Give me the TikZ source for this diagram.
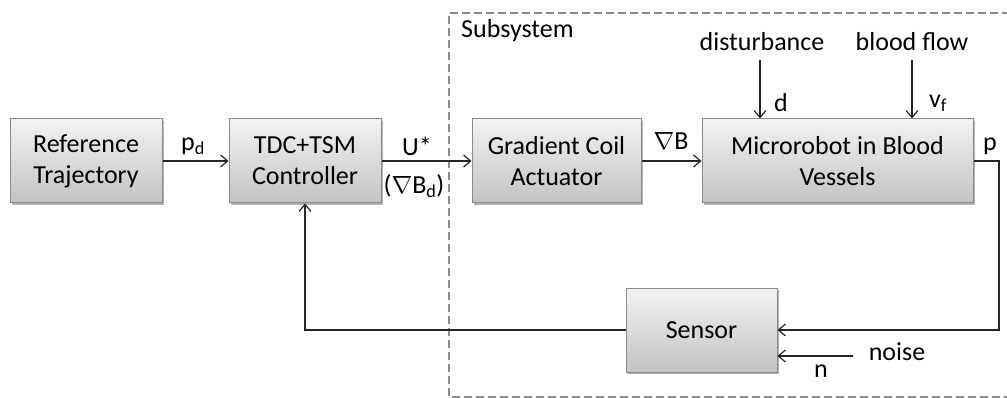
\documentclass[tikz,border=0pt]{standalone}
\usepackage{fontspec}
\setmainfont{Carlito}
\usetikzlibrary{arrows.meta,shadows}
\definecolor{boxtop}{HTML}{F2F2F2}
\definecolor{boxbot}{HTML}{C3C3C3}
\definecolor{boxborder}{HTML}{8A8A8A}
\definecolor{dashcol}{HTML}{8C8C8C}
\definecolor{linecol}{HTML}{262626}
\begin{document}
\begin{tikzpicture}[x=1pt,y=-1pt,
  blk/.style={draw=boxborder, line width=1pt, top color=boxtop, bottom color=boxbot,
    minimum height=84pt, align=center, font=\fontsize{26}{31}\selectfont, inner sep=0pt,
    drop shadow={shadow xshift=2pt, shadow yshift=-2pt, fill=black, opacity=0.3}},
  lbl/.style={font=\fontsize{26}{31}\selectfont, inner sep=0pt},
  conn/.style={line width=1.2pt, draw=linecol, -{Straight Barb[length=7pt,width=12pt]}},
  subbox/.style={draw=dashcol, line width=1.3pt, dash pattern=on 8pt off 4pt}]
\useasboundingbox (0,0) rectangle (1007,398);
\fill[white] (0,0) rectangle (1007,398);

% subsystem frame
\draw[subbox] (1010,13) -- (449,13) -- (449,397) -- (1010,397);
\node[lbl, anchor=base west] (sub) at (461,38) {Subsystem};

% blocks
\node[blk, minimum width=152pt] (ref) at (86,161) {Reference\\Trajectory};
\node[blk, minimum width=152pt] (tdc) at (305,161) {TDC+TSM\\Controller};
\node[blk, minimum width=169pt] (gca) at (556.5,161) {Gradient Coil\\Actuator};
\node[blk, minimum width=271pt] (mic) at (837.5,161) {Microrobot in Blood\\Vessels};
\node[blk, minimum width=151pt] (sen) at (701.5,330) {Sensor};

% labels
\node[lbl] (pd) at (193,146) {p\textsubscript{d}};
\node[lbl] (us) at (417,146) {U*};
\node[lbl] (nbd) at (414,186) {($\nabla$B\textsubscript{d})};
\node[lbl] (nb) at (671,141) {$\nabla$B};
\node[lbl] (p) at (990,146) {p};
\node[lbl] (dist) at (762,42) {disturbance};
\node[lbl] (bf) at (912,42) {blood flow};
\node[lbl] (d) at (781,103) {d};
\node[lbl] (vf) at (938,103) {v\textsubscript{f}};
\node[lbl] (noise) at (897,352) {noise};
\node[lbl] (n) at (821,371) {n};

% connectors
\coordinate (pc) at (999,161);
\coordinate (dtop) at (760,60);
\coordinate (vtop) at (912,60);
\coordinate (ns) at (853,356);
\draw[conn] (ref) -- (tdc);
\draw[conn] (tdc) -- (gca);
\draw[conn] (gca) -- (mic);
\draw[conn] (mic.east) -- (pc) |- (sen.east);
\draw[conn] (sen.west) -| (tdc.south);
\draw[conn] (dtop) -- (dtop |- mic.north);
\draw[conn] (vtop) -- (vtop |- mic.north);
\draw[conn] (ns) -- (ns -| sen.east);
\end{tikzpicture}
\end{document}
